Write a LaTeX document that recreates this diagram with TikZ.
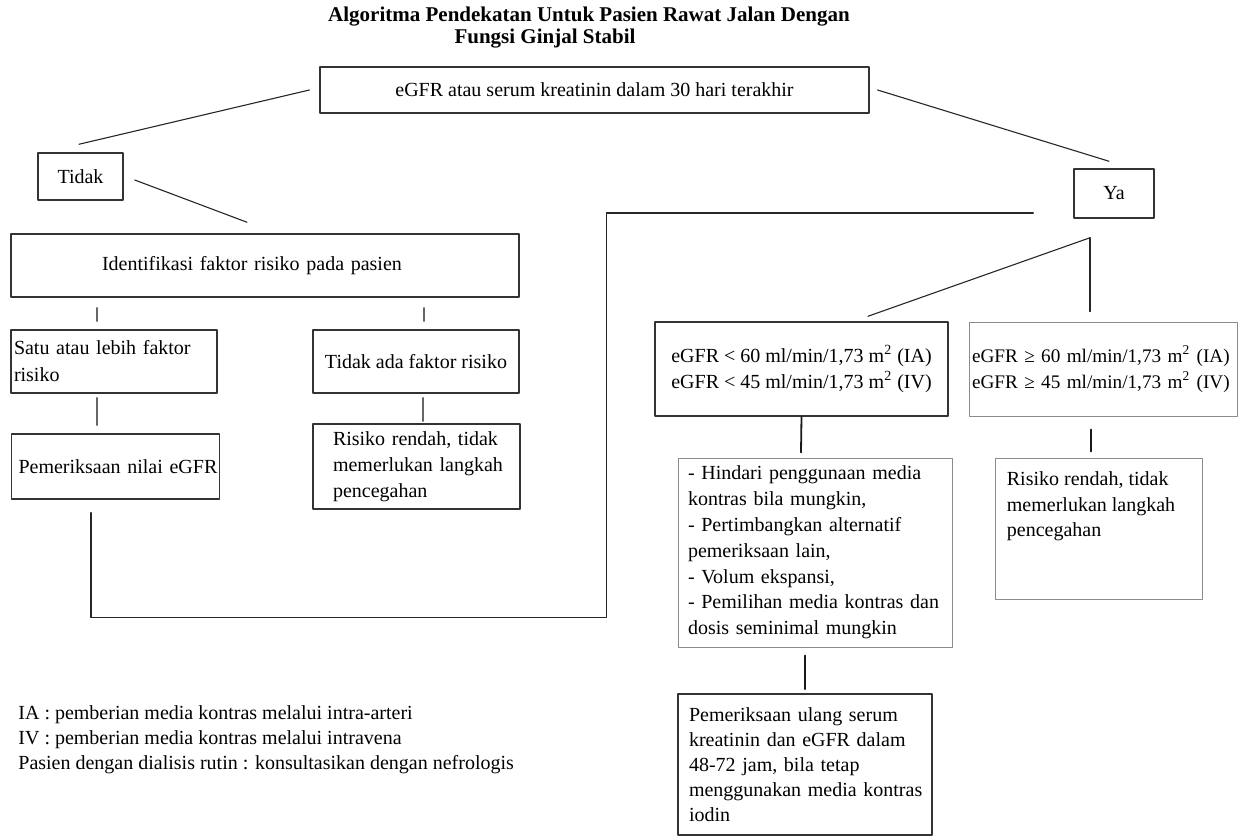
\documentclass[tikz,border=0pt]{standalone}
\usepackage{fontspec}
\setmainfont{Liberation Serif}
\usetikzlibrary{calc}

\begin{document}
\begin{tikzpicture}[x=0.5pt, y=-0.5pt, line join=round, line cap=round,
    box/.style={draw=black!80, line width=0.75pt, inner sep=0pt, font=\fontsize{10}{12.75}\selectfont},
    thinbox/.style={box, draw=black!45, line width=0.5pt},
    conn/.style={black!85, line width=0.55pt},
    tick/.style={black!90, line width=0.9pt},
    lbl/.style={anchor=north west, align=left, inner xsep=6pt, inner ysep=7pt, font=\fontsize{10}{12.75}\selectfont}]
    \useasboundingbox (0,0) rectangle (1239,836);

    % 标题
    \node[font=\fontsize{10.5}{13}\selectfont\bfseries] (title1) at (589,17) {Algoritma Pendekatan Untuk Pasien Rawat Jalan Dengan};
    \node[font=\fontsize{10.5}{13}\selectfont\bfseries] (title2) at (545,39) {Fungsi Ginjal Stabil};

    % 顶部判断框与两个分支
    \node[box, line width=0.6pt, minimum width=274.5pt, minimum height=23pt] (top) at (594.5,90) {eGFR atau serum kreatinin dalam 30 hari terakhir};
    \node[box, minimum width=42.5pt, minimum height=23.5pt] (tidak) at (80.5,176.5) {Tidak};
    \node[box, minimum width=40pt, minimum height=24.5pt] (ya) at (1114,193.5) {Ya};

    % 左侧：Tidak 分支
    \node[box, inner xsep=45.5pt, text width=163pt, align=left, minimum height=31.5pt] (ident) at (265,265.5) {\mbox{Identifikasi faktor risiko pada pasien}};
    \node[box, inner xsep=1.5pt, text width=100pt, align=left, minimum height=31.5pt, font=\fontsize{10}{13.5}\selectfont] (satu) at (114,361.5) {\mbox{Satu atau lebih faktor}\\risiko};
    \node[box, minimum width=103pt, minimum height=31.5pt] (tidakada) at (416,361.5) {Tidak ada faktor risiko};
    \node[box, inner xsep=3.5pt, text width=97pt, align=left, minimum height=32.5pt] (pemeriksa) at (115.5,466.5) {\mbox{Pemeriksaan nilai eGFR}};
    \node[box, inner xsep=10pt, text width=83.5pt, align=left, minimum height=42.5pt, font=\fontsize{10}{13}\selectfont] (risikol) at (416.5,466.5) {\mbox{Risiko rendah, tidak}\\\mbox{memerlukan langkah}\\pencegahan};

    % 右侧：Ya 分支
    \node[box, minimum width=146.5pt, minimum height=47pt, align=center, font=\fontsize{10}{13}\selectfont] (lt60) at (801.5,369) {eGFR < 60 ml/min/1,73 m\textsuperscript{2} (IA)\\eGFR < 45 ml/min/1,73 m\textsuperscript{2} (IV)};
    \node[thinbox, inner xsep=1.5pt, text width=131pt, align=left, minimum height=47pt, font=\fontsize{9.6}{13}\selectfont] (ge60) at (1103,369) {\mbox{eGFR ≥ 60 ml/min/1,73 m\textsuperscript{2} (IA)}\\\mbox{eGFR ≥ 45 ml/min/1,73 m\textsuperscript{2} (IV)}};
    \node[thinbox, inner xsep=5pt, text width=127pt, align=left, minimum height=94.5pt, font=\fontsize{10}{12.9}\selectfont] (hindari) at (815,552.5) {\mbox{- Hindari penggunaan media}\\\mbox{kontras bila mungkin,}\\\mbox{- Pertimbangkan alternatif}\\\mbox{pemeriksaan lain,}\\\mbox{- Volum ekspansi,}\\\mbox{- Pemilihan media kontras dan}\\\mbox{dosis seminimal mungkin}};
    \node[thinbox, minimum width=103.5pt, minimum height=70.5pt,
        label={[lbl]north west:Risiko rendah, tidak\\memerlukan langkah\\pencegahan}] (risikor) at (1098.5,528.5) {};
    \node[box, inner xsep=5.5pt, text width=116pt, align=left, minimum height=70.5pt, font=\fontsize{10}{12.5}\selectfont] (ulang) at (805,764.5) {\mbox{Pemeriksaan ulang serum}\\\mbox{kreatinin dan eGFR dalam}\\\mbox{48-72 jam, bila tetap}\\\mbox{menggunakan media kontras}\\iodin};

    % 说明文字
    \node[anchor=west, align=left, inner sep=0pt, font=\fontsize{10}{12.5}\selectfont] (legend) at (18,740) {IA : pemberian media kontras melalui intra-arteri\\IV : pemberian media kontras melalui intravena\\Pasien dengan dialisis rutin : konsultasikan dengan nefrologis};

    % 斜线连接
    \draw[conn] ($(top.west)+(-10,0)$) -- ($(tidak.north)+(-1.5,-8)$);
    \draw[conn] ($(tidak.east)+(11,3.5)$) -- ($(ident.north)+(-18,-11)$);
    \draw[conn] ($(top.east)+(8,0)$) -- ($(ya.north)+(-5,-7)$);

    % Ya 分叉
    \coordinate (yafork) at ($(ya.south)+(-24,19)$);
    \draw[conn] (yafork) -- ($(lt60.north)+(66.5,-5)$);
    \draw[conn] (yafork) -- ($(ge60.north)+(-13,-10)$);

    % 左侧竖线
    \draw[conn, black!60] ($(ident.south -| satu.north)+(-17,10)$) -- ($(satu.north)+(-17,-8)$);
    \draw[conn, black!60] ($(ident.south -| tidakada.north)+(8,10)$) -- ($(tidakada.north)+(8,-8)$);
    \draw[conn, black!60] ($(satu.south)+(-17,4)$) -- ($(pemeriksa.north)+(-18.5,-8)$);
    \draw[conn, black!60] ($(tidakada.south)+(7,4)$) -- ($(risikol.north)+(6.5,-2)$);

    % 右侧竖线
    \draw[tick] (lt60.south) -- ($(hindari.north)+(-14,-5)$);
    \draw[tick] ($(hindari.south)+(-10,8)$) -- ($(ulang.north)+(0,-4)$);
    \draw[tick] ($(ge60.south)+(-12,13)$) -- ($(risikor.north)+(-7.5,-6)$);

    % Pemeriksaan eGFR -> Ya 的回路
    \coordinate (loopend) at ($(ya.west)+(-40,19.5)$);
    \draw[conn, line width=0.7pt] ($(pemeriksa.south)+(-24.5,13)$) -- ++(0,105) -| ($(loopend)+(-427,0)$) -- (loopend);
\end{tikzpicture}
\end{document}
